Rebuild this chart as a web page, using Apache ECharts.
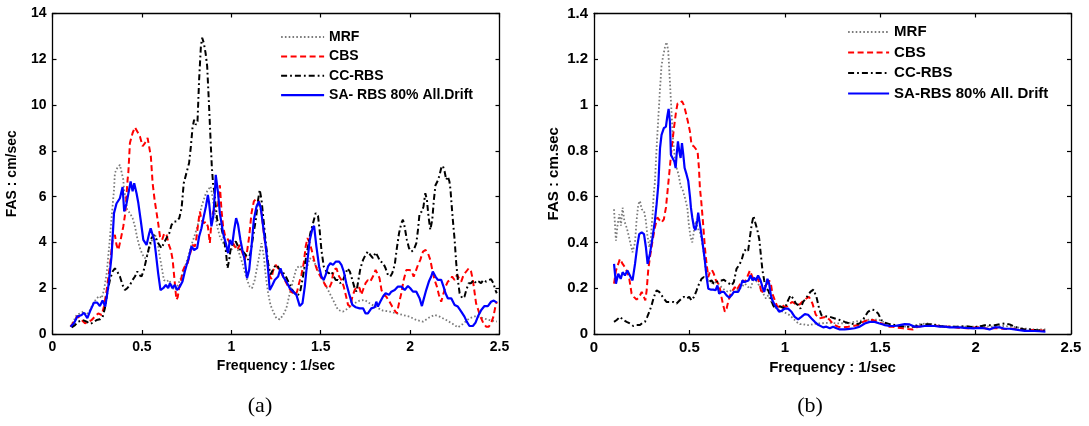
<!DOCTYPE html>
<html>
<head>
<meta charset="utf-8">
<script src="https://cdn.jsdelivr.net/npm/echarts@6/dist/echarts.min.js"></script>
<style>
  html, body { margin: 0; padding: 0; background: #fff; }
  #chart { width: 1089px; height: 426px; }
</style>
</head>
<body>
<div id="chart"></div>
<script>
// Fourier amplitude spectra, panel (a): [frequency (1/sec), FAS (cm/sec)]
const mrfA = [[0.10,0.32],[0.116,0.54],[0.135,0.83],[0.154,0.9],[0.172,0.98],[0.191,0.83],[0.21,1.05],[0.228,1.34],[0.247,1.56],[0.262,1.66],[0.275,1.56],[0.288,1.92],[0.303,2.65],[0.317,3.82],[0.331,5.13],[0.344,6.3],[0.349,7.03],[0.362,7.25],[0.377,7.39],[0.388,7.32],[0.396,6.74],[0.40,6.3],[0.411,5.86],[0.418,5.42],[0.433,5.28],[0.448,5.06],[0.461,4.7],[0.474,4.19],[0.489,3.75],[0.504,3.46],[0.517,3.31],[0.53,3.46],[0.545,3.82],[0.56,4.19],[0.573,4.33],[0.586,4.11],[0.597,3.53],[0.61,2.95],[0.623,2.36],[0.638,2.29],[0.653,2.36],[0.666,2.14],[0.679,1.92],[0.694,2.0],[0.709,2.29],[0.722,2.51],[0.735,2.8],[0.75,3.16],[0.764,3.53],[0.777,3.89],[0.79,4.19],[0.805,4.55],[0.82,4.99],[0.833,5.57],[0.846,5.86],[0.858,6.15],[0.871,6.3],[0.884,6.45],[0.895,6.0],[0.908,5.28],[0.921,4.7],[0.936,4.26],[0.951,4.04],[0.964,3.82],[0.977,3.6],[0.992,3.6],[1.007,3.75],[1.02,3.89],[1.033,3.75],[1.047,3.46],[1.062,3.09],[1.075,2.73],[1.088,2.36],[1.103,2.07],[1.116,2.0],[1.131,2.36],[1.145,2.95],[1.159,3.53],[1.169,3.97],[1.182,3.38],[1.193,2.51],[1.206,1.78],[1.219,1.27],[1.234,0.98],[1.252,0.69],[1.271,0.64],[1.29,0.83],[1.308,1.12],[1.327,1.78],[1.346,2.36],[1.364,2.87],[1.383,2.98],[1.401,2.87],[1.42,2.8],[1.439,3.31],[1.457,3.24],[1.485,2.8],[1.513,2.36],[1.541,1.92],[1.569,1.49],[1.597,1.05],[1.625,0.98],[1.653,1.12],[1.681,1.31],[1.718,1.46],[1.746,1.49],[1.774,1.34],[1.811,1.17],[1.848,1.02],[1.885,0.98],[1.923,0.9],[1.96,0.83],[1.997,0.76],[2.035,0.61],[2.072,0.54],[2.109,0.73],[2.137,0.83],[2.165,0.76],[2.202,0.61],[2.239,0.44],[2.267,0.29],[2.295,0.44],[2.332,0.69],[2.369,0.79],[2.407,0.69],[2.444,0.61],[2.485,0.54]];

const cbsA = [[0.101,0.32],[0.12,0.54],[0.139,0.79],[0.163,0.61],[0.182,0.47],[0.2,0.54],[0.219,0.61],[0.237,0.76],[0.256,0.9],[0.275,0.83],[0.288,1.2],[0.303,1.92],[0.321,2.95],[0.336,4.11],[0.349,4.33],[0.358,3.89],[0.368,3.67],[0.381,4.11],[0.396,4.7],[0.407,5.28],[0.42,6.74],[0.424,7.03],[0.433,8.34],[0.448,8.78],[0.461,9.03],[0.474,8.85],[0.489,8.63],[0.504,8.2],[0.517,8.34],[0.532,8.56],[0.541,8.49],[0.55,7.76],[0.56,6.59],[0.571,5.86],[0.582,5.3],[0.591,4.84],[0.601,4.26],[0.613,4.11],[0.625,4.4],[0.638,4.33],[0.651,3.89],[0.662,3.67],[0.672,3.24],[0.679,2.65],[0.688,1.9],[0.693,1.5],[0.70,1.6],[0.708,2.0],[0.718,2.3],[0.727,2.73],[0.74,2.95],[0.753,3.02],[0.768,3.46],[0.783,3.89],[0.796,3.82],[0.805,4.19],[0.815,4.84],[0.824,5.35],[0.833,4.99],[0.846,4.84],[0.858,4.91],[0.869,4.7],[0.88,3.97],[0.889,4.91],[0.899,5.35],[0.913,5.5],[0.926,5.64],[0.936,6.5],[0.945,5.42],[0.954,4.7],[0.964,4.33],[0.977,4.19],[0.992,3.97],[1.005,4.04],[1.02,3.82],[1.033,3.67],[1.047,3.89],[1.06,3.6],[1.075,3.24],[1.088,3.6],[1.1,4.26],[1.113,5.28],[1.126,5.79],[1.141,5.93],[1.154,5.79],[1.169,5.28],[1.182,4.4],[1.197,3.53],[1.211,2.6],[1.224,2.4],[1.233,2.75],[1.248,3.02],[1.262,2.87],[1.281,2.65],[1.299,2.36],[1.318,2.07],[1.336,1.85],[1.355,1.71],[1.368,1.85],[1.379,2.22],[1.392,2.58],[1.405,3.09],[1.416,3.82],[1.426,4.19],[1.439,3.97],[1.454,3.53],[1.467,3.09],[1.48,2.8],[1.494,2.58],[1.51,2.36],[1.528,2.1],[1.547,2.0],[1.56,2.22],[1.573,2.8],[1.588,2.87],[1.603,2.51],[1.616,2.36],[1.629,2.07],[1.64,1.71],[1.653,1.27],[1.666,1.2],[1.677,1.63],[1.69,1.92],[1.703,2.07],[1.718,2.0],[1.727,1.71],[1.74,2.0],[1.751,2.22],[1.764,2.36],[1.777,2.29],[1.792,2.51],[1.807,2.8],[1.816,2.87],[1.829,2.44],[1.84,1.92],[1.852,1.71],[1.867,1.63],[1.885,1.41],[1.9,1.2],[1.914,1.02],[1.926,0.9],[1.938,1.34],[1.951,1.78],[1.964,2.36],[1.979,2.8],[1.994,2.8],[2.007,2.77],[2.02,2.51],[2.031,2.73],[2.044,3.02],[2.057,3.24],[2.072,3.6],[2.087,3.67],[2.1,3.53],[2.113,3.24],[2.124,2.8],[2.137,2.36],[2.15,2.07],[2.161,1.71],[2.174,1.41],[2.187,1.78],[2.198,2.07],[2.211,2.29],[2.224,2.36],[2.235,2.51],[2.249,2.36],[2.262,2.58],[2.273,2.44],[2.286,2.29],[2.299,2.58],[2.314,2.73],[2.328,2.87],[2.341,2.73],[2.351,2.36],[2.36,1.85],[2.369,1.34],[2.384,0.98],[2.397,0.69],[2.41,0.47],[2.425,0.32],[2.44,0.32],[2.453,0.47],[2.466,0.76],[2.477,1.2],[2.485,1.41]];

const ccA = [[0.107,0.29],[0.126,0.39],[0.144,0.54],[0.168,0.61],[0.191,0.54],[0.21,0.44],[0.228,0.5],[0.247,0.61],[0.265,0.64],[0.28,0.73],[0.293,1.12],[0.306,1.78],[0.321,2.36],[0.336,2.73],[0.349,2.87],[0.362,2.73],[0.377,2.51],[0.392,2.14],[0.405,1.92],[0.418,2.0],[0.433,2.14],[0.448,2.36],[0.461,2.51],[0.474,2.73],[0.485,2.58],[0.498,2.51],[0.511,2.8],[0.526,3.31],[0.541,3.82],[0.554,4.19],[0.567,4.33],[0.582,4.11],[0.597,3.89],[0.61,3.75],[0.623,3.97],[0.638,4.19],[0.653,4.4],[0.666,4.77],[0.679,4.91],[0.694,4.91],[0.709,5.06],[0.722,5.5],[0.734,6.59],[0.749,7.03],[0.764,7.47],[0.774,8.2],[0.783,9.0],[0.792,9.36],[0.802,9.14],[0.811,9.29],[0.82,11.11],[0.83,12.57],[0.837,12.94],[0.846,12.72],[0.856,12.28],[0.865,11.7],[0.874,10.24],[0.884,8.49],[0.891,7.32],[0.899,6.45],[0.904,6.3],[0.913,5.57],[0.921,4.99],[0.932,4.84],[0.945,4.62],[0.958,4.19],[0.969,3.67],[0.979,2.87],[0.988,3.24],[0.997,3.75],[1.01,3.97],[1.025,4.04],[1.038,3.82],[1.051,3.67],[1.066,3.6],[1.081,3.46],[1.094,3.24],[1.107,3.53],[1.122,4.26],[1.137,4.99],[1.15,5.86],[1.159,6.3],[1.169,5.86],[1.182,4.84],[1.193,3.97],[1.206,3.09],[1.219,2.6],[1.23,2.65],[1.243,2.95],[1.256,3.02],[1.271,2.8],[1.286,2.73],[1.305,2.51],[1.323,2.22],[1.342,1.92],[1.36,1.71],[1.374,1.71],[1.387,1.92],[1.401,2.51],[1.416,3.24],[1.429,3.82],[1.442,4.4],[1.457,4.84],[1.472,5.28],[1.485,5.16],[1.494,4.55],[1.504,3.67],[1.517,2.95],[1.532,2.73],[1.547,2.65],[1.56,2.73],[1.573,2.51],[1.584,2.36],[1.597,2.36],[1.61,2.22],[1.625,2.36],[1.64,2.65],[1.65,2.87],[1.663,2.73],[1.677,2.36],[1.69,2.0],[1.7,1.85],[1.711,2.36],[1.722,2.87],[1.737,3.24],[1.751,3.46],[1.764,3.6],[1.777,3.46],[1.792,3.31],[1.807,3.56],[1.82,3.38],[1.833,3.16],[1.848,3.12],[1.863,2.87],[1.876,2.58],[1.889,2.51],[1.9,2.65],[1.914,3.02],[1.926,3.75],[1.938,4.4],[1.951,4.84],[1.96,4.99],[1.969,4.7],[1.982,4.11],[1.994,3.75],[2.007,3.6],[2.02,3.67],[2.035,3.97],[2.044,4.55],[2.053,5.28],[2.066,5.35],[2.075,5.57],[2.085,6.15],[2.094,5.86],[2.103,5.13],[2.113,4.55],[2.124,4.99],[2.133,5.86],[2.142,6.5],[2.155,6.7],[2.165,6.95],[2.174,7.25],[2.183,7.35],[2.193,7.1],[2.202,6.74],[2.211,6.88],[2.22,6.66],[2.226,6.3],[2.23,5.86],[2.239,4.99],[2.249,4.11],[2.258,3.09],[2.267,2.36],[2.277,1.78],[2.292,1.56],[2.304,1.63],[2.314,1.92],[2.328,2.22],[2.341,2.22],[2.355,2.36],[2.369,2.22],[2.384,2.29],[2.397,2.22],[2.41,2.36],[2.425,2.29],[2.44,2.36],[2.453,2.39],[2.466,2.22],[2.477,1.92],[2.485,1.78]];

const saA = [[0.101,0.32],[0.12,0.47],[0.139,0.76],[0.163,0.83],[0.176,0.93],[0.195,0.69],[0.213,1.05],[0.232,1.37],[0.25,1.37],[0.265,1.22],[0.28,1.46],[0.295,1.2],[0.312,2.07],[0.33,3.38],[0.344,5.28],[0.358,5.7],[0.377,5.93],[0.386,6.0],[0.392,6.42],[0.401,5.35],[0.414,5.7],[0.424,5.64],[0.437,6.66],[0.448,6.23],[0.457,6.59],[0.47,6.15],[0.48,5.72],[0.493,4.99],[0.508,4.11],[0.526,3.89],[0.541,4.4],[0.549,4.62],[0.56,4.33],[0.569,4.11],[0.578,3.53],[0.591,2.65],[0.604,1.92],[0.619,2.0],[0.634,2.14],[0.647,2.0],[0.657,2.22],[0.671,2.0],[0.684,2.14],[0.697,1.92],[0.712,2.07],[0.727,2.29],[0.74,2.73],[0.753,3.09],[0.764,3.38],[0.777,3.82],[0.792,3.67],[0.809,3.75],[0.82,4.26],[0.833,4.62],[0.846,5.13],[0.858,5.57],[0.869,6.08],[0.876,5.72],[0.889,4.7],[0.899,5.13],[0.908,6.15],[0.913,6.95],[0.926,6.15],[0.936,5.28],[0.945,4.84],[0.954,4.4],[0.969,3.97],[0.982,3.53],[0.992,4.11],[1.005,3.89],[1.016,4.55],[1.027,5.06],[1.038,4.77],[1.051,4.11],[1.062,3.67],[1.075,3.24],[1.088,2.44],[1.1,2.8],[1.113,3.82],[1.126,4.99],[1.141,5.57],[1.154,5.79],[1.165,5.5],[1.178,4.7],[1.193,3.82],[1.206,2.8],[1.215,1.92],[1.23,2.14],[1.243,2.36],[1.262,2.51],[1.275,2.87],[1.29,2.51],[1.308,2.29],[1.327,2.0],[1.346,1.85],[1.364,1.71],[1.383,1.22],[1.398,1.34],[1.411,2.07],[1.424,3.09],[1.439,4.11],[1.454,4.62],[1.463,4.72],[1.476,3.82],[1.491,2.95],[1.504,2.51],[1.517,2.36],[1.528,2.58],[1.541,2.95],[1.554,3.09],[1.569,3.02],[1.584,3.16],[1.603,3.16],[1.616,3.02],[1.629,2.73],[1.643,2.22],[1.658,1.78],[1.677,1.27],[1.696,1.17],[1.718,1.12],[1.737,1.12],[1.751,0.9],[1.764,0.9],[1.783,1.12],[1.802,1.17],[1.811,1.41],[1.82,1.2],[1.833,1.41],[1.848,1.63],[1.863,1.78],[1.882,1.71],[1.895,1.85],[1.914,1.92],[1.932,2.07],[1.951,2.07],[1.97,1.92],[1.988,2.1],[2.001,2.0],[2.016,1.85],[2.035,1.85],[2.053,1.56],[2.066,1.22],[2.075,1.49],[2.09,1.92],[2.105,2.29],[2.118,2.51],[2.127,2.73],[2.142,2.51],[2.155,2.36],[2.174,2.36],[2.187,2.07],[2.198,1.78],[2.211,1.56],[2.23,1.56],[2.249,1.27],[2.267,1.2],[2.286,0.98],[2.304,0.76],[2.317,0.54],[2.332,0.35],[2.351,0.35],[2.366,0.5],[2.379,0.76],[2.398,1.05],[2.416,1.22],[2.435,1.22],[2.453,1.41],[2.468,1.46],[2.485,1.37]];

// Panel (b): [frequency (1/sec), FAS (cm.sec)]
const mrfB = [[0.105,0.545],[0.115,0.408],[0.124,0.48],[0.133,0.523],[0.141,0.473],[0.15,0.552],[0.159,0.494],[0.171,0.465],[0.18,0.436],[0.192,0.393],[0.202,0.357],[0.215,0.4],[0.223,0.494],[0.232,0.566],[0.241,0.581],[0.25,0.545],[0.262,0.538],[0.272,0.494],[0.279,0.436],[0.29,0.379],[0.298,0.422],[0.307,0.523],[0.314,0.624],[0.319,0.66],[0.328,0.812],[0.337,0.942],[0.346,1.072],[0.354,1.173],[0.363,1.217],[0.372,1.253],[0.38,1.275],[0.389,1.238],[0.398,1.101],[0.407,0.957],[0.415,0.841],[0.424,0.769],[0.433,0.725],[0.443,0.697],[0.454,0.646],[0.464,0.632],[0.475,0.6],[0.48,0.6],[0.489,0.552],[0.497,0.48],[0.506,0.422],[0.515,0.4],[0.524,0.451],[0.534,0.494],[0.546,0.458],[0.555,0.444],[0.565,0.408],[0.576,0.35],[0.586,0.277],[0.599,0.234],[0.611,0.227],[0.625,0.22],[0.639,0.227],[0.651,0.22],[0.668,0.205],[0.686,0.191],[0.703,0.184],[0.721,0.191],[0.738,0.198],[0.756,0.191],[0.773,0.205],[0.791,0.22],[0.808,0.205],[0.82,0.198],[0.834,0.234],[0.848,0.234],[0.86,0.22],[0.874,0.198],[0.887,0.176],[0.901,0.155],[0.913,0.169],[0.925,0.147],[0.939,0.126],[0.956,0.111],[0.974,0.104],[0.991,0.097],[1.009,0.09],[1.026,0.082],[1.044,0.068],[1.061,0.053],[1.079,0.043],[1.096,0.043],[1.113,0.039],[1.131,0.039],[1.148,0.043],[1.175,0.046],[1.236,0.049],[1.288,0.046],[1.34,0.049],[1.393,0.058],[1.428,0.061],[1.463,0.064],[1.497,0.061],[1.532,0.046],[1.567,0.038],[1.602,0.032],[1.654,0.032],[1.707,0.043],[1.742,0.046],[1.777,0.043],[1.829,0.035],[1.881,0.032],[1.934,0.032],[1.986,0.032],[2.038,0.035],[2.091,0.032],[2.143,0.035],[2.195,0.032],[2.248,0.025],[2.3,0.02],[2.366,0.02]];

const cbsB = [[0.105,0.22],[0.115,0.277],[0.127,0.306],[0.136,0.328],[0.15,0.306],[0.162,0.292],[0.175,0.27],[0.185,0.241],[0.197,0.176],[0.209,0.162],[0.223,0.15],[0.237,0.162],[0.25,0.184],[0.258,0.169],[0.269,0.147],[0.276,0.191],[0.284,0.277],[0.293,0.335],[0.307,0.408],[0.319,0.465],[0.332,0.509],[0.342,0.501],[0.354,0.487],[0.366,0.501],[0.377,0.552],[0.385,0.62],[0.394,0.697],[0.407,0.812],[0.419,0.899],[0.43,0.971],[0.438,1.007],[0.45,1.007],[0.461,1.017],[0.471,1.0],[0.482,0.964],[0.492,0.928],[0.503,0.884],[0.511,0.827],[0.524,0.819],[0.534,0.812],[0.543,0.798],[0.55,0.725],[0.555,0.639],[0.562,0.581],[0.572,0.48],[0.581,0.379],[0.59,0.306],[0.599,0.249],[0.607,0.27],[0.618,0.28],[0.628,0.263],[0.639,0.234],[0.651,0.22],[0.66,0.198],[0.668,0.162],[0.677,0.126],[0.686,0.097],[0.695,0.111],[0.705,0.147],[0.716,0.176],[0.726,0.184],[0.738,0.205],[0.747,0.191],[0.757,0.184],[0.768,0.22],[0.778,0.234],[0.791,0.227],[0.803,0.249],[0.817,0.277],[0.827,0.256],[0.838,0.234],[0.848,0.227],[0.859,0.241],[0.869,0.22],[0.878,0.176],[0.887,0.169],[0.897,0.205],[0.908,0.22],[0.918,0.234],[0.927,0.22],[0.935,0.176],[0.948,0.147],[0.96,0.121],[0.974,0.118],[0.988,0.126],[1.0,0.118],[1.012,0.121],[1.026,0.133],[1.04,0.14],[1.052,0.133],[1.065,0.126],[1.079,0.13],[1.096,0.145],[1.113,0.155],[1.127,0.162],[1.145,0.133],[1.162,0.085],[1.18,0.068],[1.201,0.072],[1.218,0.075],[1.236,0.061],[1.253,0.043],[1.279,0.032],[1.305,0.029],[1.332,0.032],[1.358,0.035],[1.384,0.039],[1.41,0.053],[1.436,0.061],[1.462,0.061],[1.489,0.053],[1.515,0.043],[1.541,0.032],[1.567,0.032],[1.593,0.027],[1.62,0.025],[1.646,0.022],[1.672,0.02],[1.698,0.032],[1.724,0.035],[1.75,0.036],[1.777,0.038],[1.803,0.035],[1.829,0.032],[1.855,0.032],[1.881,0.032],[1.907,0.027],[1.934,0.026],[1.96,0.025],[1.986,0.027],[2.012,0.03],[2.038,0.026],[2.065,0.023],[2.091,0.026],[2.117,0.025],[2.143,0.023],[2.169,0.022],[2.195,0.023],[2.222,0.02],[2.248,0.019],[2.283,0.017],[2.317,0.017],[2.366,0.014]];

const ccB = [[0.105,0.053],[0.119,0.061],[0.136,0.075],[0.154,0.061],[0.171,0.053],[0.188,0.046],[0.206,0.035],[0.223,0.039],[0.241,0.039],[0.255,0.049],[0.267,0.053],[0.279,0.075],[0.29,0.097],[0.302,0.126],[0.314,0.162],[0.328,0.191],[0.342,0.184],[0.354,0.169],[0.366,0.155],[0.38,0.14],[0.398,0.14],[0.415,0.14],[0.433,0.133],[0.447,0.145],[0.459,0.155],[0.471,0.162],[0.485,0.155],[0.499,0.162],[0.511,0.147],[0.524,0.162],[0.538,0.191],[0.551,0.22],[0.564,0.241],[0.576,0.249],[0.59,0.241],[0.604,0.227],[0.616,0.234],[0.628,0.22],[0.642,0.227],[0.656,0.234],[0.668,0.234],[0.681,0.237],[0.695,0.227],[0.709,0.22],[0.721,0.212],[0.733,0.227],[0.747,0.285],[0.759,0.299],[0.773,0.321],[0.785,0.357],[0.796,0.371],[0.808,0.364],[0.817,0.422],[0.827,0.48],[0.836,0.516],[0.845,0.487],[0.855,0.458],[0.866,0.415],[0.874,0.35],[0.883,0.277],[0.892,0.234],[0.901,0.198],[0.913,0.191],[0.925,0.162],[0.935,0.133],[0.948,0.111],[0.96,0.126],[0.97,0.133],[0.983,0.118],[1.0,0.111],[1.017,0.147],[1.03,0.169],[1.044,0.155],[1.058,0.133],[1.07,0.126],[1.082,0.111],[1.096,0.14],[1.11,0.155],[1.122,0.169],[1.134,0.184],[1.15,0.194],[1.166,0.162],[1.18,0.111],[1.192,0.082],[1.209,0.078],[1.236,0.075],[1.262,0.068],[1.288,0.061],[1.314,0.053],[1.34,0.046],[1.366,0.043],[1.393,0.046],[1.414,0.068],[1.436,0.097],[1.454,0.107],[1.471,0.104],[1.489,0.09],[1.506,0.061],[1.524,0.049],[1.55,0.043],[1.576,0.039],[1.602,0.035],[1.628,0.032],[1.654,0.032],[1.681,0.032],[1.707,0.039],[1.733,0.043],[1.759,0.043],[1.785,0.039],[1.812,0.035],[1.838,0.032],[1.864,0.032],[1.89,0.032],[1.916,0.032],[1.942,0.035],[1.969,0.032],[1.995,0.029],[2.021,0.032],[2.047,0.038],[2.073,0.038],[2.1,0.038],[2.126,0.043],[2.152,0.046],[2.178,0.042],[2.204,0.032],[2.23,0.025],[2.257,0.02],[2.283,0.02],[2.317,0.017],[2.366,0.014]];

const saB = [[0.105,0.306],[0.115,0.22],[0.127,0.263],[0.14,0.241],[0.15,0.27],[0.162,0.256],[0.175,0.277],[0.185,0.285],[0.192,0.249],[0.202,0.234],[0.215,0.306],[0.227,0.386],[0.237,0.436],[0.25,0.444],[0.262,0.436],[0.272,0.379],[0.281,0.306],[0.293,0.35],[0.307,0.422],[0.319,0.494],[0.328,0.566],[0.337,0.65],[0.346,0.812],[0.354,0.87],[0.366,0.899],[0.377,0.906],[0.384,0.949],[0.391,0.983],[0.398,0.928],[0.403,0.783],[0.412,0.78],[0.421,0.754],[0.428,0.725],[0.433,0.783],[0.44,0.841],[0.447,0.798],[0.454,0.769],[0.461,0.834],[0.468,0.783],[0.475,0.725],[0.485,0.697],[0.494,0.668],[0.503,0.6],[0.508,0.552],[0.515,0.509],[0.524,0.465],[0.532,0.454],[0.541,0.494],[0.546,0.53],[0.555,0.48],[0.564,0.429],[0.572,0.379],[0.581,0.321],[0.59,0.249],[0.599,0.198],[0.611,0.194],[0.625,0.194],[0.637,0.191],[0.647,0.212],[0.656,0.176],[0.668,0.184],[0.681,0.184],[0.695,0.169],[0.709,0.159],[0.721,0.169],[0.733,0.184],[0.743,0.191],[0.756,0.184],[0.768,0.205],[0.778,0.234],[0.789,0.227],[0.799,0.22],[0.81,0.234],[0.82,0.256],[0.831,0.234],[0.839,0.246],[0.848,0.234],[0.86,0.256],[0.873,0.234],[0.883,0.205],[0.892,0.184],[0.901,0.212],[0.909,0.241],[0.918,0.22],[0.927,0.169],[0.935,0.147],[0.948,0.126],[0.96,0.111],[0.97,0.097],[0.983,0.101],[1.0,0.111],[1.017,0.111],[1.035,0.097],[1.052,0.075],[1.07,0.064],[1.087,0.075],[1.105,0.087],[1.122,0.084],[1.14,0.068],[1.157,0.053],[1.175,0.04],[1.201,0.029],[1.218,0.032],[1.236,0.025],[1.253,0.032],[1.271,0.025],[1.288,0.02],[1.314,0.02],[1.34,0.022],[1.366,0.025],[1.393,0.032],[1.419,0.046],[1.445,0.053],[1.471,0.053],[1.497,0.046],[1.524,0.039],[1.55,0.035],[1.576,0.035],[1.602,0.039],[1.628,0.043],[1.654,0.042],[1.681,0.032],[1.707,0.032],[1.733,0.035],[1.759,0.036],[1.785,0.035],[1.812,0.032],[1.838,0.032],[1.864,0.029],[1.89,0.029],[1.916,0.029],[1.942,0.027],[1.969,0.026],[1.995,0.025],[2.021,0.027],[2.047,0.025],[2.073,0.02],[2.1,0.029],[2.126,0.029],[2.152,0.023],[2.178,0.023],[2.204,0.02],[2.23,0.017],[2.257,0.014],[2.283,0.014],[2.309,0.013],[2.335,0.012],[2.366,0.01]];

// Series names per panel
const namesA = ['MRF', 'CBS', 'CC-RBS', 'SA- RBS 80% All.Drift'];
const namesB = ['MRF', 'CBS', 'CC-RBS', 'SA-RBS 80% All. Drift'];

const FONT = '"Liberation Sans", Arial, Helvetica, sans-serif';

// Line appearance shared by both panels: dotted grey, dashed red, dash-dot black, solid blue
const styles = [
  { color: '#7a7a7a', width: 1.8, type: [1.6, 2.2] },
  { color: '#ff0000', width: 2, type: [6, 3.5] },
  { color: '#000000', width: 2, type: [6, 3, 1.8, 3] },
  { color: '#0000ff', width: 2.2, type: 'solid' }
];

function tickLabel(size) {
  return { color: '#000', fontFamily: FONT, fontWeight: 'bold', fontSize: size, margin: 6 };
}

function axisPair(gridIndex, fs, yMax, yInt, yName) {
  const line = { show: true, onZero: false, lineStyle: { color: '#000', width: 1.3 } };
  const tick = { show: true, inside: true, length: 4, lineStyle: { color: '#000', width: 1.2 } };
  const xBase = { gridIndex, type: 'value', min: 0, max: 2.5, interval: 0.5, splitLine: { show: false }, axisLine: line, axisTick: tick };
  const yBase = { gridIndex, type: 'value', min: 0, max: yMax, interval: yInt, splitLine: { show: false }, axisLine: line, axisTick: tick };
  return {
    x: [
      Object.assign({}, xBase, {
        position: 'bottom', axisLabel: tickLabel(fs),
        name: 'Frequency : 1/sec', nameLocation: 'middle', nameGap: 22,
        nameTextStyle: { color: '#000', fontFamily: FONT, fontWeight: 'bold', fontSize: fs }
      }),
      Object.assign({}, xBase, { position: 'top', axisLabel: { show: false } })
    ],
    y: [
      Object.assign({}, yBase, {
        position: 'left', axisLabel: tickLabel(fs),
        name: yName, nameLocation: 'middle', nameRotate: 90, nameGap: 33,
        nameTextStyle: { color: '#000', fontFamily: FONT, fontWeight: 'bold', fontSize: fs }
      }),
      Object.assign({}, yBase, { position: 'right', axisLabel: { show: false } })
    ]
  };
}

const axA = axisPair(0, 14, 14, 2, 'FAS : cm/sec');
const axB = axisPair(1, 15, 1.4, 0.2, 'FAS : cm.sec');

function makeSeries(names, datasets, xi, yi) {
  return datasets.map((d, i) => ({
    type: 'line',
    name: names[i],
    xAxisIndex: xi,
    yAxisIndex: yi,
    data: d,
    symbol: 'none',
    smooth: false,
    animation: false,
    lineStyle: { color: styles[i].color, width: styles[i].width, type: styles[i].type },
    itemStyle: { color: styles[i].color }
  }));
}

function makeLegend(names, left, top, w, fs, gap) {
  return {
    orient: 'vertical',
    left, top,
    data: names,
    itemWidth: w,
    itemHeight: 14,
    itemGap: gap,
    selectedMode: false,
    itemStyle: { opacity: 0 },
    lineStyle: { width: 'inherit' },
    textStyle: { color: '#000', fontFamily: FONT, fontWeight: 'bold', fontSize: fs, lineHeight: 14 }
  };
}

const chart = echarts.init(document.getElementById('chart'), null, { renderer: 'canvas' });
chart.setOption({
  backgroundColor: '#fff',
  animation: false,
  grid: [
    { left: 52.5, top: 13.5, width: 447, height: 320.5 },
    { left: 594, top: 13.5, width: 477, height: 320.5 }
  ],
  xAxis: axA.x.concat(axB.x),
  yAxis: axA.y.concat(axB.y),
  legend: [
    makeLegend(namesA, 275, 25, 43, 14, 5.4),
    makeLegend(namesB, 842, 19.5, 41, 15, 5.5)
  ],
  series: makeSeries(namesA, [mrfA, cbsA, ccA, saA], 0, 0)
    .concat(makeSeries(namesB, [mrfB, cbsB, ccB, saB], 2, 2)),
  graphic: [
    { type: 'text', x: 260, y: 406, style: { text: '(a)', font: '22px "Liberation Serif", "Times New Roman", serif', fill: '#000', align: 'center', verticalAlign: 'middle' } },
    { type: 'text', x: 810, y: 406, style: { text: '(b)', font: '22px "Liberation Serif", "Times New Roman", serif', fill: '#000', align: 'center', verticalAlign: 'middle' } }
  ]
});
</script>
</body>
</html>
